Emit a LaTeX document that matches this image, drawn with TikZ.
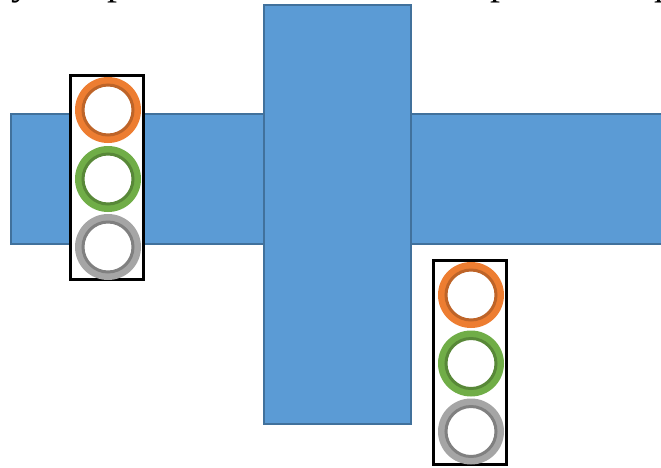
\documentclass[tikz,border=0pt]{standalone}
\usepackage{fontspec}
\setmainfont{Liberation Serif}
\definecolor{barfill}{RGB}{91, 155, 213}
\definecolor{bardraw}{RGB}{65, 113, 156}
\definecolor{co}{RGB}{237, 125, 49}
\definecolor{cod}{RGB}{190, 100, 40}
\definecolor{cg}{RGB}{112, 173, 71}
\definecolor{cgd}{RGB}{88, 136, 56}
\definecolor{cy}{RGB}{165, 165, 165}
\definecolor{cyd}{RGB}{128, 128, 128}
\tikzset{
  bar/.style={rectangle, inner sep=0pt, fill=barfill, line width=2.75pt, draw=bardraw},
  holder/.style={rectangle, inner sep=0pt, minimum width=72.5pt, minimum height=203.5pt, fill=white, line width=2.75pt, draw=black},
  ring/.style 2 args={circle, inner sep=0pt, minimum size=66pt, fill=#1, path picture={\draw [line width=3pt, color=#2, fill=white] (path picture bounding box.center) circle (25pt);}},
  cut/.style={inner sep=0pt, anchor=base, font=\fontsize{40pt}{40pt}\selectfont}
}

\begin{document}
\begin{tikzpicture}
\useasboundingbox (0pt, 0pt) rectangle (661pt, -467pt);
\node (y1) [cut] at (21pt, 5.5pt) {y};
\node (p1) [cut] at (117pt, 5.5pt) {p};
\node (p2) [cut] at (500pt, 5.5pt) {p};
\node (p3) [cut] at (664pt, 5.5pt) {p};
\node (hbar) [bar, minimum width=680pt, minimum height=130pt] at (351pt, -179pt) {};
\node (vbar) [bar, minimum width=147pt, minimum height=419pt] at (337.5pt, -214.5pt) {};
\node (left) [holder] at (107pt, -177.5pt) {};
\node (right) [holder] at (470pt, -362.5pt) {};
\node (lo) [ring={co}{cod}] at (108pt, -110pt) {};
\node (lg) [ring={cg}{cgd}] at (108pt, -179pt) {};
\node (ly) [ring={cy}{cyd}] at (108pt, -247pt) {};
\node (ro) [ring={co}{cod}] at (471pt, -295pt) {};
\node (rg) [ring={cg}{cgd}] at (471pt, -363.5pt) {};
\node (ry) [ring={cy}{cyd}] at (471pt, -431.5pt) {};
\end{tikzpicture}
\end{document}
